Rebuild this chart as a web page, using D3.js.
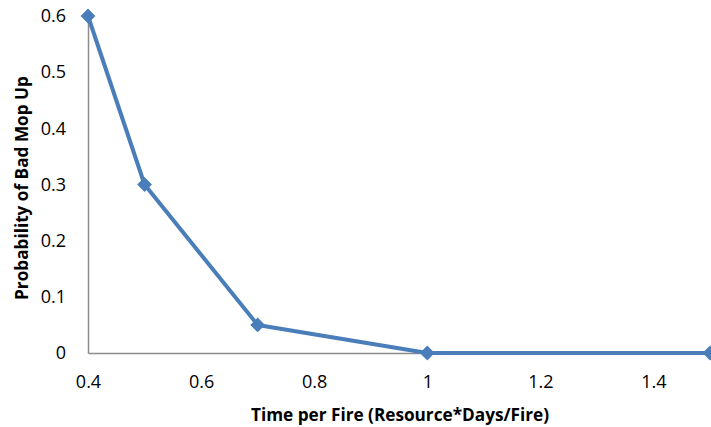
<!DOCTYPE html>
<html>
<head>
<meta charset="utf-8">
<script src="https://cdn.jsdelivr.net/npm/d3@7"></script>
<style>
  html, body { margin: 0; padding: 0; background: #fff; }
  svg { display: block; }
  text { font-family: "Open Sans", Lato, sans-serif; fill: #000; }
</style>
</head>
<body>
<svg id="chart" width="711" height="427"></svg>
<script>
// Mop-up quality vs. time spent per fire
const timePerFire = [0.4, 0.5, 0.7, 1.0, 1.5];
const probBadMopUp = [0.6, 0.3, 0.05, 0, 0];
const xTicks = [0.4, 0.6, 0.8, 1.0, 1.2, 1.4];
const yTicks = [0, 0.1, 0.2, 0.3, 0.4, 0.5, 0.6];

const svg = d3.select("#chart");
const m = { left: 88, right: 710, top: 16, bottom: 353 };

const x = d3.scaleLinear().domain([0.4, 1.5]).range([m.left, m.right]);
const y = d3.scaleLinear().domain([0, 0.6]).range([m.bottom, m.top]);

const fmt = d => String(+d.toFixed(1));

// Axes (no tick marks, gray domain lines)
const xAxis = svg.append("g")
  .attr("transform", `translate(0,${m.bottom})`)
  .call(d3.axisBottom(x).tickValues(xTicks).tickSize(0).tickPadding(22).tickFormat(fmt));
const yAxis = svg.append("g")
  .attr("transform", `translate(${m.left},0)`)
  .call(d3.axisLeft(y).tickValues(yTicks).tickSize(0).tickPadding(22).tickFormat(fmt));

[xAxis, yAxis].forEach(g => {
  g.select(".domain").attr("stroke", "#8c8c8c").attr("stroke-width", 1.5);
  g.selectAll("text").style("font-size", "18px").style("font-family", "'Open Sans', Lato, sans-serif");
});
xAxis.selectAll("text").attr("dy", "0.71em").attr("y", 22);

// Series line
const data = timePerFire.map((t, i) => ({ t, p: probBadMopUp[i] }));
svg.append("path")
  .datum(data)
  .attr("fill", "none")
  .attr("stroke", "#4A7EBB")
  .attr("stroke-width", 4)
  .attr("stroke-linejoin", "round")
  .attr("d", d3.line().x(d => x(d.t)).y(d => y(d.p)));

// Diamond markers
svg.append("g").selectAll("path")
  .data(data)
  .join("path")
  .attr("transform", d => `translate(${x(d.t)},${y(d.p)})`)
  .attr("d", d3.symbol().type(d3.symbolDiamond2).size(140))
  .attr("fill", "#4A7EBB");

// Axis titles
svg.append("text")
  .attr("x", 400).attr("y", 421)
  .attr("text-anchor", "middle")
  .style("font-size", "17.2px").style("font-weight", "bold")
  .text("Time per Fire (Resource*Days/Fire)");

svg.append("text")
  .attr("transform", `translate(28,188) rotate(-90)`)
  .attr("text-anchor", "middle")
  .style("font-size", "17.2px").style("font-weight", "bold")
  .text("Probability of Bad Mop Up");
</script>
</body>
</html>
